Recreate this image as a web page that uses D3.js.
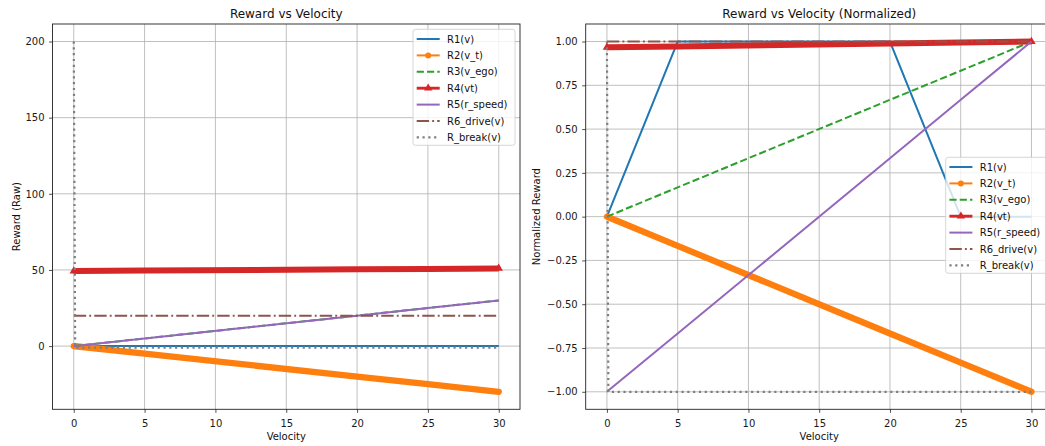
<!DOCTYPE html>
<html>
<head>
<meta charset="utf-8">
<script src="https://cdn.jsdelivr.net/npm/d3@7"></script>
<style>
  html, body { margin: 0; padding: 0; background: #fff; }
  #chart { width: 1045px; height: 446px; overflow: hidden; }
</style>
</head>
<body>
<div id="chart"></div>
<script>
// Data (velocity breakpoints and reward values)
const velocity = [0, 0.1, 5, 20, 25, 30];

const r1Raw = [0, 0.002, 0.1, 0.1, 0, 0];
const r2Raw = [0, -0.1, -5, -20, -25, -30];
const r3Raw = [0, 0.1, 5, 20, 25, 30];
const r4Raw = [49.3, 49.3, 49.6, 50.4, 50.7, 51];
const r5Raw = [0, 0.1, 5, 20, 25, 30];
const r6Raw = [20, 20, 20, 20, 20, 20];
const rBreakRaw = [200, -1, -1, -1, -1, -1];

const r1Norm = [0, 0.02, 1, 1, 0, 0];
const r2Norm = [0, -0.0033, -0.167, -0.667, -0.833, -1];
const r3Norm = [0, 0.0033, 0.167, 0.667, 0.833, 1];
const r4Norm = [0.967, 0.967, 0.972, 0.988, 0.994, 1];
const r5Norm = [-1, -0.993, -0.667, 0.333, 0.667, 1];
const r6Norm = [1, 1, 1, 1, 1, 1];
const rBreakNorm = [1, -1, -1, -1, -1, -1];

const seriesNames = ['R1(v)', 'R2(v_t)', 'R3(v_ego)', 'R4(vt)', 'R5(r_speed)', 'R6_drive(v)', 'R_break(v)'];
const xTicks = [0, 5, 10, 15, 20, 25, 30];
const yTicksRaw = [0, 50, 100, 150, 200];
const yTicksNorm = [-1, -0.75, -0.5, -0.25, 0, 0.25, 0.5, 0.75, 1];

// Line styles in the matplotlib default cycle
const styles = [
    { color: '#1f77b4', width: 2 },
    { color: '#ff7f0e', width: 2, band: 6.3, marker: 'circle' },
    { color: '#2ca02c', width: 2, dash: '7.2,3.1' },
    { color: '#d62728', width: 2.9, band: 6, marker: 'triangle' },
    { color: '#9467bd', width: 2 },
    { color: '#8c564b', width: 2, dash: '12.4,3.1,1.9,3.1' },
    { color: '#7f7f7f', width: 2.2, dash: '2.2,3.6' }
];

const W = 1045, H = 446;
const svg = d3.select('#chart')
    .append('svg')
    .attr('width', W)
    .attr('height', H)
    .style('font-family', '"DejaVu Sans", sans-serif');

function drawPanel(cfg) {
    const x = d3.scaleLinear().domain([-1.5, 31.5]).range([cfg.left, cfg.right]);
    const y = d3.scaleLinear().domain(cfg.yDomain).range([cfg.bottom, cfg.top]);
    const g = svg.append('g');

    // clip
    const clipId = 'clip-' + cfg.id;
    svg.append('defs').append('clipPath').attr('id', clipId)
        .append('rect')
        .attr('x', cfg.left).attr('y', cfg.top)
        .attr('width', cfg.right - cfg.left).attr('height', cfg.bottom - cfg.top);

    // grid
    g.append('g').selectAll('line.gx').data(xTicks).enter().append('line')
        .attr('x1', d => x(d)).attr('x2', d => x(d))
        .attr('y1', cfg.top).attr('y2', cfg.bottom)
        .attr('stroke', '#b0b0b0').attr('stroke-width', 0.8);
    g.append('g').selectAll('line.gy').data(cfg.yTicks).enter().append('line')
        .attr('x1', cfg.left).attr('x2', cfg.right)
        .attr('y1', d => y(d)).attr('y2', d => y(d))
        .attr('stroke', '#b0b0b0').attr('stroke-width', 0.8);

    // series
    const lines = g.append('g').attr('clip-path', `url(#${clipId})`);
    cfg.series.forEach((vals, i) => {
        const st = styles[i];
        const pts = velocity.map((v, k) => [v, vals[k]]);
        const line = d3.line().x(d => x(d[0])).y(d => y(d[1]));
        if (st.band) {
            // dense markers merge into a thick band
            lines.append('path').attr('d', line(pts))
                .attr('fill', 'none').attr('stroke', st.color)
                .attr('stroke-width', st.band)
                .attr('stroke-linecap', st.marker === 'circle' ? 'round' : 'butt')
                .attr('stroke-linejoin', 'round');
            if (st.marker === 'triangle') {
                const ends = [pts[0], pts[pts.length - 1]];
                lines.selectAll(null).data(ends).enter().append('path')
                    .attr('d', d3.symbol().type(d3.symbolTriangle).size(30))
                    .attr('transform', d => `translate(${x(d[0])},${y(d[1])})`)
                    .attr('fill', st.color);
            }
        } else {
            lines.append('path').attr('d', line(pts))
                .attr('fill', 'none').attr('stroke', st.color)
                .attr('stroke-width', st.width)
                .attr('stroke-dasharray', st.dash || null)
                .attr('stroke-linejoin', 'round');
        }
    });

    // axes
    const xAxis = g.append('g')
        .attr('transform', `translate(0,${cfg.bottom})`)
        .call(d3.axisBottom(x).tickValues(xTicks).tickSize(3.5).tickPadding(7).tickFormat(d3.format('d')));
    const yAxis = g.append('g')
        .attr('transform', `translate(${cfg.left},0)`)
        .call(d3.axisLeft(y).tickValues(cfg.yTicks).tickSize(3.5).tickPadding(4.5).tickFormat(cfg.yFormat));
    [xAxis, yAxis].forEach(a => {
        a.select('.domain').remove();
        a.selectAll('text').attr('font-size', 10).attr('fill', '#1a1a1a')
            .style('font-family', '"DejaVu Sans", sans-serif');
        a.selectAll('line').attr('stroke', '#222').attr('stroke-width', 0.8);
    });

    // frame
    g.append('rect')
        .attr('x', cfg.left).attr('y', cfg.top)
        .attr('width', cfg.right - cfg.left).attr('height', cfg.bottom - cfg.top)
        .attr('fill', 'none').attr('stroke', '#222').attr('stroke-width', 0.9);

    // titles
    const cx = (cfg.left + cfg.right) / 2;
    g.append('text').attr('x', cx).attr('y', 17.5)
        .attr('text-anchor', 'middle').attr('font-size', 12).attr('fill', '#111')
        .text(cfg.title);
    g.append('text').attr('x', cx).attr('y', 439.5)
        .attr('text-anchor', 'middle').attr('font-size', 10).attr('fill', '#111')
        .text('Velocity');
    g.append('text')
        .attr('transform', `translate(${cfg.yLabelX},${(cfg.top + cfg.bottom) / 2}) rotate(-90)`)
        .attr('text-anchor', 'middle').attr('font-size', 10).attr('fill', '#111')
        .text(cfg.yLabel);

    // legend
    const lw = 102, lh = 116, rowH = 16.4;
    const lx = cfg.right - 5 - lw;
    const ly = cfg.legendTop;
    const leg = g.append('g').attr('transform', `translate(${lx},${ly})`);
    leg.append('rect').attr('width', lw).attr('height', lh).attr('rx', 2.5)
        .attr('fill', '#fff').attr('fill-opacity', 0.8)
        .attr('stroke', '#cccccc').attr('stroke-width', 0.8);
    seriesNames.forEach((name, i) => {
        const st = styles[i];
        const yy = 9.7 + i * rowH;
        const row = leg.append('g').attr('transform', `translate(0,${yy})`);
        row.append('line').attr('x1', 3.7).attr('x2', 26.7)
            .attr('stroke', st.color).attr('stroke-width', st.width)
            .attr('stroke-dasharray', st.dash || null);
        if (st.marker === 'circle') {
            row.append('circle').attr('cx', 15.2).attr('cy', 0).attr('r', 3).attr('fill', st.color);
        } else if (st.marker === 'triangle') {
            row.append('path').attr('d', d3.symbol().type(d3.symbolTriangle).size(30))
                .attr('transform', 'translate(15.2,0)').attr('fill', st.color);
        }
        row.append('text').attr('x', 34).attr('y', 0).attr('dy', '0.35em')
            .attr('font-size', 10).attr('fill', '#111').text(name);
    });
}

drawPanel({
    id: 'raw', left: 52.5, right: 520, top: 24, bottom: 409.3,
    yDomain: [-41.5, 211.5], yTicks: yTicksRaw, yFormat: d3.format('d'),
    series: [r1Raw, r2Raw, r3Raw, r4Raw, r5Raw, r6Raw, rBreakRaw],
    title: 'Reward vs Velocity', yLabel: 'Reward (Raw)', yLabelX: 19.5,
    legendTop: 29.3
});

drawPanel({
    id: 'norm', left: 585.7, right: 1052.7, top: 24, bottom: 409.3,
    yDomain: [-1.1, 1.1], yTicks: yTicksNorm, yFormat: d3.format('.2f'),
    series: [r1Norm, r2Norm, r3Norm, r4Norm, r5Norm, r6Norm, rBreakNorm],
    title: 'Reward vs Velocity (Normalized)', yLabel: 'Normalized Reward', yLabelX: 540,
    legendTop: 157.3
});
</script>
</body>
</html>
